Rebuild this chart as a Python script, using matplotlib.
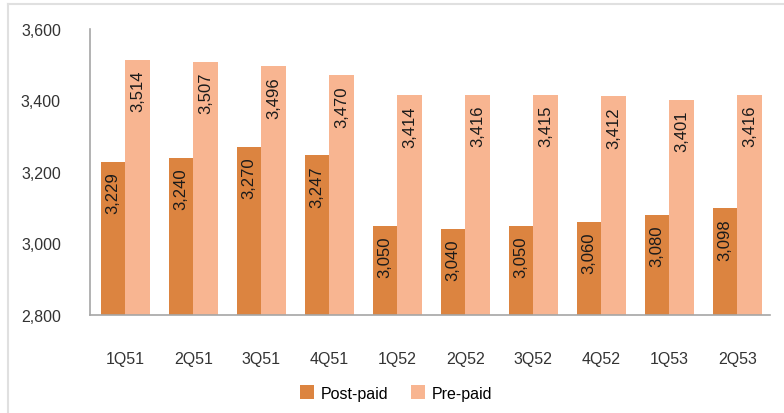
import numpy as np
import matplotlib.pyplot as plt
from matplotlib.lines import Line2D

plt.rcParams['font.family'] = ['Liberation Sans', 'DejaVu Sans']

quarters = ["1Q51", "2Q51", "3Q51", "4Q51", "1Q52", "2Q52", "3Q52", "4Q52", "1Q53", "2Q53"]
post_paid = [3229, 3240, 3270, 3247, 3050, 3040, 3050, 3060, 3080, 3098]
pre_paid = [3514, 3507, 3496, 3470, 3414, 3416, 3415, 3412, 3401, 3416]

c_post = "#DC8440"
c_pre = "#F8B591"

fig = plt.figure(figsize=(7.84, 4.14), dpi=100)
ax = fig.add_axes([90/784, 1-316/414, 680/784, 286/414])

x = np.arange(len(quarters))
w = 0.36
b1 = ax.bar(x - w/2, post_paid, w, color=c_post, label="Post-paid")
b2 = ax.bar(x + w/2, pre_paid, w, color=c_pre, label="Pre-paid")

for bars, vals in ((b1, post_paid), (b2, pre_paid)):
    for rect, v in zip(bars, vals):
        ax.annotate(f"{v:,}", xy=(rect.get_x() + rect.get_width()/2, v),
                    xytext=(0, -7), textcoords="offset points",
                    rotation=90, ha="center", va="top", fontsize=12, color="#1a1a1a")

ax.set_ylim(2800, 3600)
ax.set_xlim(-0.52, 9.48)
ax.set_yticks([2800, 3000, 3200, 3400, 3600])
ax.set_yticklabels([f"{t:,}" for t in [2800, 3000, 3200, 3400, 3600]])
ax.set_xticks(x)
ax.set_xticklabels(quarters)
ax.tick_params(axis="y", length=0, pad=21, labelsize=11.5, labelcolor="#333333")
ax.tick_params(axis="x", length=0, pad=26, labelsize=11.5, labelcolor="#333333")

for s in ("top", "right"):
    ax.spines[s].set_visible(False)
for s in ("left", "bottom"):
    ax.spines[s].set_color("#A6A6A6")
    ax.spines[s].set_linewidth(1.2)

fig.legend(loc="center", bbox_to_anchor=(0.505, 1-394/414), ncol=2, frameon=False,
           fontsize=11.5, handlelength=0.9, handleheight=0.9, columnspacing=1.4,
           handletextpad=0.4)

# light frame around the chart
fig.add_artist(Line2D([8/784, 8/784], [0, 1-5/414], color="#E0E0E0", lw=1.5))
fig.add_artist(Line2D([8/784, 1], [1-5/414, 1-5/414], color="#E0E0E0", lw=1.5))

fig.savefig("out.png", dpi=100)
